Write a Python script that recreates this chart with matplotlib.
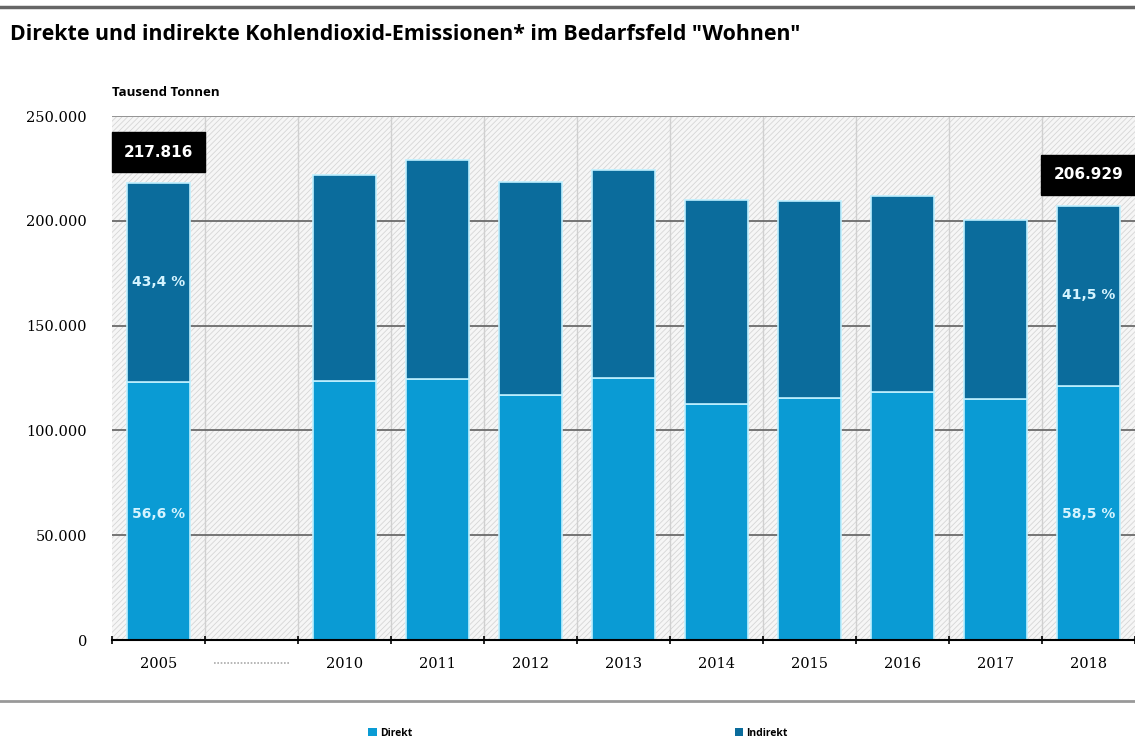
import matplotlib
matplotlib.use("Agg")
import matplotlib.pyplot as plt
from matplotlib.patches import Patch, Rectangle
from matplotlib.lines import Line2D

# data (Tausend Tonnen)
years = ["2005", "", "2010", "2011", "2012", "2013", "2014", "2015", "2016", "2017", "2018"]
direkt = [123300, None, 123600, 124500, 116900, 125000, 112600, 115500, 118300, 115000, 121100]
gesamt = [217816, None, 221800, 229000, 218500, 224200, 209900, 209400, 211800, 200400, 206929]
yticks = [0, 50000, 100000, 150000, 200000, 250000]
ytick_labels = ["0", "50.000", "100.000", "150.000", "200.000", "250.000"]
pct_labels = {0: ("56,6 %", "43,4 %"), 10: ("58,5 %", "41,5 %")}
box_labels = {0: "217.816", 10: "206.929"}

c_direkt = "#0a9bd4"
c_indirekt = "#0b6c9c"

plt.rcParams["hatch.linewidth"] = 0.6

fig = plt.figure(figsize=(11.35, 7.4), dpi=100)
ax = fig.add_axes([112 / 1135, 100 / 740, 1 - 112 / 1135, 524 / 740])
ax.patch.set_visible(False)
ax.add_patch(Rectangle((0, 0), 1, 1, transform=ax.transAxes, facecolor="#f6f6f6",
                       edgecolor="#d6d6d6", hatch="//////", lw=0, zorder=0))

x = list(range(len(years)))
for i in x:
    if direkt[i] is None:
        continue
    ax.bar(i, direkt[i], width=0.67, color=c_direkt, edgecolor="#bff0ff", linewidth=1.2, zorder=3)
    ax.bar(i, gesamt[i] - direkt[i], bottom=direkt[i], width=0.67, color=c_indirekt,
           edgecolor="#bff0ff", linewidth=1.2, zorder=3)

# percent labels inside the bars
for i, (p_d, p_i) in pct_labels.items():
    ax.text(i, 60000, p_d, ha="center", va="center", color="#d5f4ff", fontsize=10,
            fontweight="bold", zorder=4)
    ax.text(i, direkt[i] + (gesamt[i] - direkt[i]) * 0.45 + 5000, p_i, ha="center", va="center",
            color="#d5f4ff", fontsize=10, fontweight="bold", zorder=4)

# black value boxes above first and last bar
for i, lab in box_labels.items():
    ax.text(i, gesamt[i] + 15000, lab, ha="center", va="center", color="white", fontsize=11,
            fontweight="bold", zorder=5,
            bbox=dict(boxstyle="square,pad=0.8", facecolor="black", edgecolor="black"))

ax.set_xlim(-0.5, len(years) - 0.5)
ax.set_ylim(0, 250000)
ax.set_yticks(yticks)
ax.set_yticklabels(ytick_labels, family="DejaVu Serif", fontsize=10.5)
for v in yticks[1:]:
    ax.axhline(v, color="#6b6b6b", lw=1.3, zorder=2)
ax.axhline(250000, color="#999999", lw=1.3, zorder=2)
for b in range(1, len(years)):
    ax.axvline(b - 0.5, color="#d0d0d0", lw=1, zorder=1)

ax.set_xticks(x)
ax.set_xticklabels(years, family="DejaVu Serif", fontsize=10.5)
ax.tick_params(axis="x", length=0, pad=12)
ax.tick_params(axis="y", length=0, pad=18)
# tick marks between categories
ax.set_xticks([b - 0.5 for b in range(len(years) + 1)], minor=True)
ax.tick_params(axis="x", which="minor", length=6, width=1.2, color="black", direction="inout")

# dotted marker for the gap years
ax.plot([0.6, 1.4], [-11000, -11000], ls=(0, (1, 1)), color="#aaaaaa", lw=1.2, clip_on=False)

for s in ["top", "right", "left"]:
    ax.spines[s].set_visible(False)
ax.spines["bottom"].set_linewidth(1.5)
ax.spines["bottom"].set_zorder(5)

# title, unit and separator lines
fig.add_artist(Line2D([0.0, 1.0], [1 - 7 / 740] * 2, color="#666666", lw=2.5))
fig.add_artist(Line2D([0.0, 1.0], [1 - 701 / 740] * 2, color="#999999", lw=2))
fig.text(10 / 1135, 1 - 35 / 740, 'Direkte und indirekte Kohlendioxid-Emissionen* im Bedarfsfeld "Wohnen"',
         fontsize=15.4, fontweight="bold", family="Open Sans", va="center", ha="left")
fig.text(112 / 1135, 1 - 93 / 740, "Tausend Tonnen", fontsize=9.5, fontweight="bold",
         family="Open Sans", va="center", ha="left")

handles = [Patch(facecolor=c_direkt, label="Direkt"), Patch(facecolor=c_indirekt, label="Indirekt")]
fig.legend(handles=handles, loc="center", bbox_to_anchor=(578 / 1135, 1 - 733 / 740), ncol=2,
           frameon=False, handlelength=0.8, handleheight=0.8, handletextpad=0.3,
           columnspacing=31, prop={"family": "Open Sans", "weight": "bold", "size": 7.5})

fig.savefig("out.png", dpi=100)
